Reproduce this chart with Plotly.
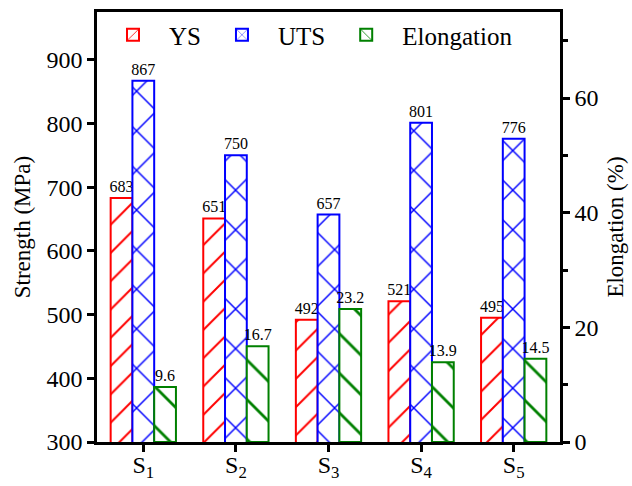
import plotly.graph_objects as go

categories = ["S<sub>1</sub>", "S<sub>2</sub>", "S<sub>3</sub>", "S<sub>4</sub>", "S<sub>5</sub>"]
ys = [683, 651, 492, 521, 495]
uts = [867, 750, 657, 801, 776]
elong = [9.6, 16.7, 23.2, 13.9, 14.5]

FONT = "Liberation Serif"
W = 0.235

fig = go.Figure()

def add(name, vals, color, shape, psize, offset, yaxis, fmt):
    fig.add_trace(go.Bar(
        name=name, x=categories, y=vals, yaxis=yaxis,
        width=W, offset=offset,
        marker=dict(color="white",
                    line=dict(color=color, width=2),
                    pattern=dict(shape=shape, fgcolor=color, bgcolor="white",
                                 size=psize, solidity=0.1, fillmode="replace")),
        text=[fmt.format(v) for v in vals], textposition="outside",
        textfont=dict(family=FONT, size=16, color="black"),
        constraintext="none",
        cliponaxis=False,
    ))

add("YS", ys, "#ff0000", "/", 20, -1.5 * W, "y", "{:d}")
add("UTS", uts, "#0000ff", "x", 28, -0.5 * W, "y", "{:d}")
add("Elongation", elong, "#008000", "\\", 28, 0.5 * W, "y2", "{:.1f}")

axis_common = dict(showline=True, linecolor="black", linewidth=2.5,
                   ticks="outside", ticklen=7, tickwidth=2.5, tickcolor="black",
                   showgrid=False, zeroline=False, automargin=False,
                   tickfont=dict(family=FONT, size=24, color="black"))

fig.update_layout(
    width=632, height=486,
    margin=dict(l=97, r=72, t=12, b=44, autoexpand=False),
    font=dict(family=FONT, color="black"),
    plot_bgcolor="white", paper_bgcolor="white",
    barmode="overlay",
    showlegend=True,
    legend=dict(orientation="h", x=0.0, y=1.0, xanchor="left", yanchor="top",
                font=dict(family=FONT, size=25, color="black"),
                bgcolor="rgba(0,0,0,0)", itemwidth=62, traceorder="normal"),
    xaxis=dict(**axis_common, mirror=True, range=[-0.5, 4.5], ticklabelstandoff=-8),
    yaxis=dict(**axis_common, range=[300, 975], tick0=300, dtick=100,
               title=dict(text="Strength (MPa)", font=dict(family=FONT, size=23, color="black"), standoff=10)),
    yaxis2=dict(**axis_common, overlaying="y", side="right", range=[0, 75],
                tick0=0, dtick=20,
                minor=dict(ticks="outside", dtick=10, ticklen=5, tickwidth=2.5, tickcolor="black"),
                title=dict(text="Elongation (%)", font=dict(family=FONT, size=23, color="black"), standoff=10)),
)

fig.write_html("out.html", config={"displayModeBar": False},
               post_script="document.body.style.margin='0';")
